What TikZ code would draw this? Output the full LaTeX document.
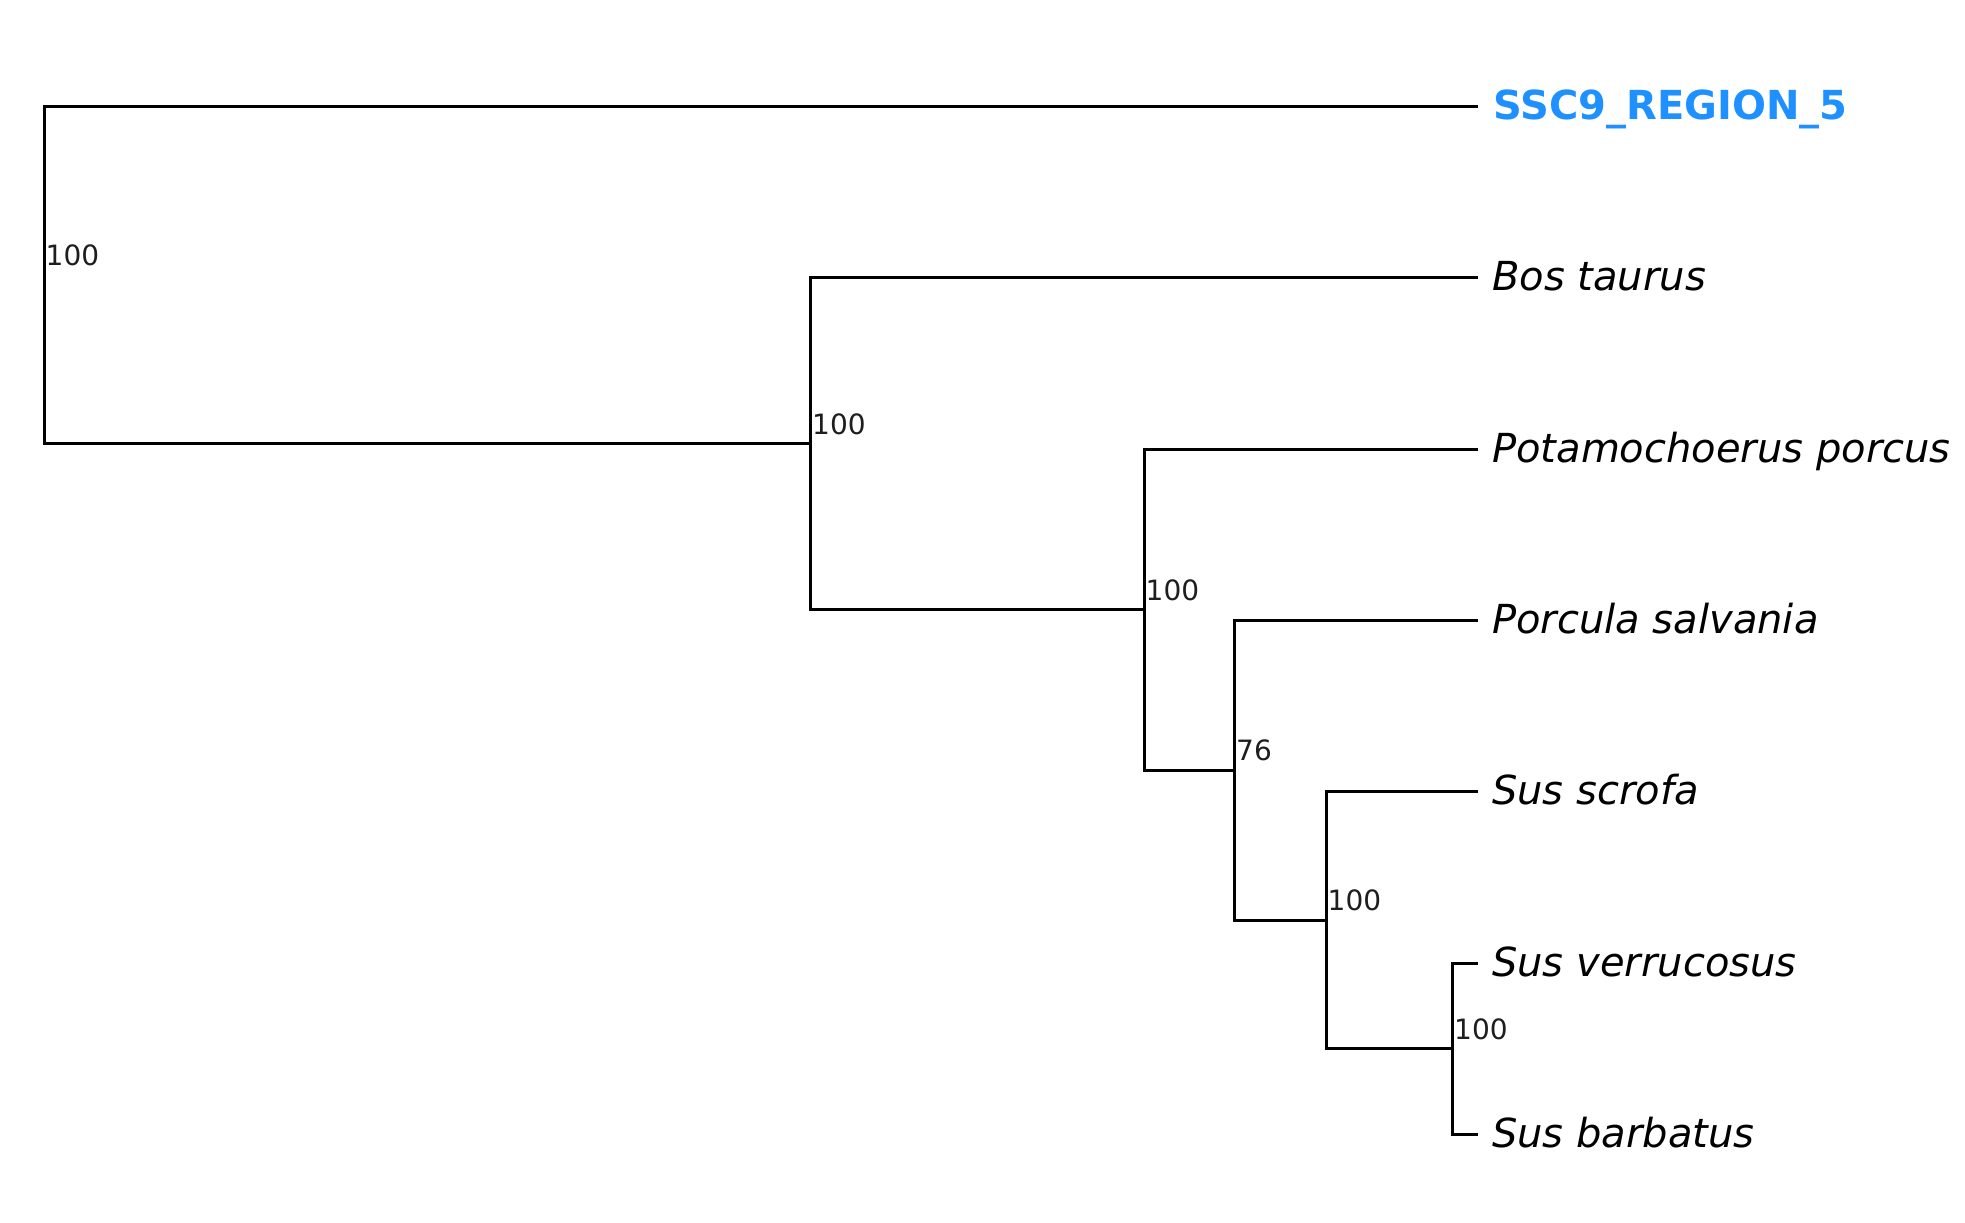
\documentclass[tikz,border=0pt]{standalone}
\usepackage{fontspec}
\setmainfont{DejaVu Sans}
\definecolor{hiblue}{RGB}{30,144,255}
\definecolor{labgray}{RGB}{30,30,30}
\begin{document}
\begin{tikzpicture}[x=1pt,y=-1pt,
  branch/.style={line width=3pt, black},
  leaflab/.style={anchor=base west, inner sep=0pt, xshift=14pt, yshift=-13pt,
    font=\fontsize{40}{48}\selectfont\itshape},
  hilab/.style={anchor=base west, inner sep=0pt, xshift=15pt, yshift=-13pt,
    font=\fontsize{40}{48}\selectfont\bfseries, text=hiblue},
  supp/.style={anchor=base west, inner sep=0pt, xshift=1.5pt, yshift=9.5pt,
    font=\fontsize{28}{33}\selectfont, text=labgray}]
\useasboundingbox (0,0) rectangle (1965,1223);
% leaf tips
\coordinate (l1) at (1478,106.5);
\coordinate (l2) at (1478,277.8);
\coordinate (l3) at (1478,449.2);
\coordinate (l4) at (1478,620.5);
\coordinate (l5) at (1478,791.8);
\coordinate (l6) at (1478,963.2);
\coordinate (l7) at (1478,1134.5);
% internal nodes
\coordinate (n6) at (1452.5,1048.8);
\coordinate (n5) at (1326,920.3);
\coordinate (n4) at (1234.5,770.4);
\coordinate (n3) at (1144,609.8);
\coordinate (n2) at (810.5,443.8);
\coordinate (root) at (44,275.2);
% branches
\draw[branch] (root) |- (l1);
\draw[branch] (root) |- (n2);
\draw[branch] (n2) |- (l2);
\draw[branch] (n2) |- (n3);
\draw[branch] (n3) |- (l3);
\draw[branch] (n3) |- (n4);
\draw[branch] (n4) |- (l4);
\draw[branch] (n4) |- (n5);
\draw[branch] (n5) |- (l5);
\draw[branch] (n5) |- (n6);
\draw[branch] (n6) |- (l6);
\draw[branch] (n6) |- (l7);
% leaf labels
\node[hilab] (t1) at (l1) {SSC9\_REGION\_5};
\node[leaflab] (t2) at (l2) {Bos taurus};
\node[leaflab] (t3) at (l3) {Potamochoerus porcus};
\node[leaflab] (t4) at (l4) {Porcula salvania};
\node[leaflab] (t5) at (l5) {Sus scrofa};
\node[leaflab] (t6) at (l6) {Sus verrucosus};
\node[leaflab] (t7) at (l7) {Sus barbatus};
% support values
\node[supp] (s1) at (root) {100};
\node[supp] (s2) at (n2) {100};
\node[supp] (s3) at (n3) {100};
\node[supp] (s4) at (n4) {76};
\node[supp] (s5) at (n5) {100};
\node[supp] (s6) at (n6) {100};
\end{tikzpicture}
\end{document}
